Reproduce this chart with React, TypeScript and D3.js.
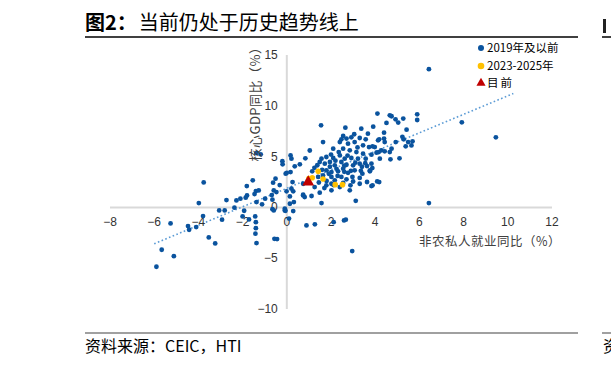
import React from "react";
import * as d3 from "d3";

const titleText = "图2：当前仍处于历史趋势线上";
const sourceText = "资料来源：CEIC，HTI";
const xAxisTitle = "非农私人就业同比（%）";
const yAxisTitle = "核心GDP同比（%）";
const legendLabels = ["2019年及以前", "2023-2025年", "目前"];

const xTicks = [-8, -6, -4, -2, 0, 2, 4, 6, 8, 10, 12];
const yTicks = [-10, -5, 0, 5, 10, 15];

// [private payroll yoy %, core GDP yoy %]
const pointsPre2019: [number, number][] = [
  // left side
  [-1.37, 5.35], [-1.18, 5.22], [-0.19, 4.24], [-0.2, 4.55], [-3.76, 2.46], [-1.54, 2.66], [-1.81, 2.1],
  [-0.51, 2.83], [-0.62, 2.43], [-0.32, 2.2], [-0.05, 3.32], [-1.4, 1.61], [-1.27, 1.67], [-1.46, 1.31],
  [-1.8, 1.18], [-1.86, 0.96], [-2.1, 0.86], [-2.28, 0.69], [-2.73, 0.72], [-3.98, 0.43], [-0.59, 1.67],
  [-0.68, 1.21], [-0.47, 1.51], [-0.98, 0.86], [-1.37, 0.52], [-1.12, 0.3], [-0.65, 0.76], [-0.01, 1.58],
  [-3.06, -0.3], [-2.81, -0.3], [-2.37, -0.03], [-1.93, -0.33], [-0.65, -0.17], [-0.59, -0.3], [-0.06, -0.33],
  [-3.79, -0.85], [-2.93, -1.21], [-2.0, -0.89], [-1.71, -1.18], [-1.43, -0.89], [-1.4, -1.45], [-1.4, -2.04],
  [-1.42, -2.59], [-1.37, -3.51], [-0.56, -3.09], [-0.44, -3.12], [-3.53, -2.96], [-3.24, -3.55],
  [-5.26, -1.58], [-4.47, -1.84], [-4.42, -2.2], [-4.1, -1.94], [-5.66, -4.17], [-5.11, -4.8], [-5.9, -5.84],
  // around zero
  [0.17, 5.12], [0.21, 4.8], [0.36, 4.04], [0.59, 4.24], [0.84, 4.83], [1.04, 5.6], [0.17, 3.48],
  [0.26, 2.49], [0.21, 1.84], [0.74, 1.25], [0.14, 1.08], [0.32, 0.52], [0.14, 0.36], [-0.09, -0.13],
  [0.1, -1.1], [0.29, -0.36], [-0.09, -0.3], [0.89, -1.77], [1.27, -1.67], [2.12, -1.45], [2.59, -1.28],
  [2.67, -1.21], [2.96, -4.3], [1.57, 0.43], [3.12, 0.65], [6.43, 0.43], [0.29, 1.58], [0.0, 3.4],
  // dense core
  [1.55, 8.08], [2.65, 7.85], [3.37, 7.75], [3.67, 7.26], [2.55, 7.03], [2.47, 6.7], [2.7, 6.77],
  [2.92, 6.9], [3.3, 6.83], [3.57, 6.7], [1.64, 6.43], [2.4, 6.43], [2.77, 6.27], [3.07, 6.43],
  [3.45, 6.11], [3.72, 5.94], [2.1, 5.78], [2.55, 5.78], [2.85, 5.62], [3.15, 5.45], [3.45, 5.29],
  [3.83, 5.19], [1.57, 4.8], [1.79, 4.96], [2.1, 4.86], [2.4, 5.12], [2.62, 4.8], [2.92, 4.86],
  [3.22, 4.8], [3.57, 4.8], [1.49, 4.47], [1.72, 4.3], [1.95, 4.47], [2.17, 4.14], [2.47, 4.47],
  [2.7, 4.2], [3.0, 4.14], [3.3, 4.3], [3.63, 4.07], [3.87, 3.87], [1.79, 3.65], [2.02, 3.48],
  [2.32, 3.55], [2.55, 3.81], [2.77, 3.4], [3.07, 3.65], [3.42, 3.32], [3.76, 3.55], [1.42, 3.0],
  [1.64, 3.15], [2.02, 3.0], [2.17, 2.66], [2.47, 3.0], [2.7, 2.76], [2.97, 3.0], [3.3, 2.9],
  [3.63, 2.5], [0.74, 2.33], [1.26, 2.0], [1.79, 2.17], [2.02, 2.33], [2.4, 2.0], [2.88, 2.17],
  [3.3, 2.33], [3.83, 2.1], [0.74, 1.18], [1.12, 1.12], [1.49, 1.45], [2.02, 1.68], [2.85, 1.68],
  [0.81, 1.02], [1.25, 3.9], [1.38, 4.15], [1.6, 3.7], [1.9, 3.3], [2.2, 4.6], [2.3, 3.1],
  [2.6, 3.5], [2.9, 3.6], [3.1, 4.4], [3.4, 4.0], [1.8, 2.6], [2.12, 2.2], [2.35, 5.45],
  [2.0, 5.2], [2.75, 5.1], [3.2, 5.9], [1.45, 2.45], [1.7, 1.9], [2.55, 2.4], [3.0, 2.55],
  [1.95, 4.0], [2.25, 3.8], [2.6, 4.1], [3.35, 3.6], [3.55, 4.35], [1.15, 3.55], [3.05, 7.2],
  // right side
  [4.1, 9.23], [4.66, 9.06], [4.74, 8.97], [4.92, 8.67], [5.27, 8.74], [5.9, 9.16], [5.9, 8.6],
  [7.92, 8.37], [9.46, 6.9], [6.43, 13.6], [4.51, 8.31], [5.04, 8.35], [3.91, 7.95], [5.42, 7.65],
  [4.4, 7.35], [5.23, 6.95], [4.13, 6.6], [4.4, 6.77], [4.43, 6.43], [4.93, 6.43], [5.29, 6.7],
  [5.49, 6.43], [5.69, 6.5], [5.38, 6.01], [5.64, 6.1], [4.06, 5.39], [4.28, 5.62], [4.74, 5.78],
  [4.66, 5.45], [5.1, 4.83], [4.21, 4.8], [4.69, 4.73], [3.83, 4.3], [4.09, 2.56], [4.18, 2.49],
  [3.88, 2.17], [3.76, 3.65], [3.88, 6.01], [3.98, 5.94], [4.18, 6.7], [4.16, 5.45], [4.43, 5.52],
];

const points2023to2025: [number, number][] = [
  [1.42, 3.55], [1.15, 2.92], [1.64, 2.79], [2.19, 2.24], [2.52, 2.24], [1.0, 2.85],
];

const currentPoint: [number, number] = [0.97, 2.6];

const trendSlope = 0.91;
const trendIntercept = 1.88;
const trendRange = [-6, 10.25];

const W = 611;
const H = 366;

export default function App() {
  const x = d3.scaleLinear().domain([-8, 12]).range([110, 552]);
  const y = d3.scaleLinear().domain([-10, 15]).range([309, 55]);
  const fmt = d3.format("d");
  const line = d3
    .line<number>()
    .x((d) => x(d))
    .y((d) => y(trendIntercept + trendSlope * d));
  const tri = d3.symbol().type(d3.symbolTriangle).size(60)();
  const triSmall = d3.symbol().type(d3.symbolTriangle).size(36)();
  const blue = "#0a539e";
  const yellow = "#ffc000";
  const red = "#c00000";
  const latin = "'Liberation Sans', Arial, sans-serif";
  const cjk = "'Noto Sans CJK SC', sans-serif";

  return (
    <svg
      width={W}
      height={H}
      style={{ position: "absolute", left: 0, top: 0, background: "#fff" }}
      xmlns="http://www.w3.org/2000/svg"
    >
      <rect width={W} height={H} fill="#fff" />
      {/* title */}
      <text x={85} y={30} fontFamily={cjk} fontSize={20} fill="#000">
        <tspan fontWeight="bold">{titleText.slice(0, 3)}</tspan>
        <tspan dx={2}>{titleText.slice(3)}</tspan>
      </text>
      <line x1={85} x2={578} y1={37} y2={37} stroke="#000" strokeWidth={1.5} />
      {/* right edge fragments */}
      <rect x={603} y={19} width={3} height={14} fill="#222" />
      <line x1={602} x2={611} y1={37} y2={37} stroke="#000" strokeWidth={1.5} />
      <line x1={602} x2={611} y1={333} y2={333} stroke="#808080" strokeWidth={1.5} />
      <text x={603} y={352} fontFamily={cjk} fontSize={16} fill="#000">资</text>

      {/* axes */}
      <line x1={x(-8)} x2={x(12)} y1={y(0)} y2={y(0)} stroke="#d9d9d9" strokeWidth={2} />
      <line x1={x(0)} x2={x(0)} y1={y(15)} y2={y(-10)} stroke="#d9d9d9" strokeWidth={2} />

      {/* trend line */}
      <path
        d={line(trendRange) || ""}
        fill="none"
        stroke="#5b9bd5"
        strokeWidth={1.6}
        strokeDasharray="1.6,2.4"
      />

      {/* tick labels */}
      {xTicks.map((t) => (
        <text
          key={"x" + t}
          x={x(t)}
          y={226}
          textAnchor="middle"
          fontFamily={latin}
          fontSize={12}
          fill="#333"
        >
          {fmt(t)}
        </text>
      ))}
      {yTicks.map((t) => (
        <text
          key={"y" + t}
          x={x(0) - 9}
          y={y(t) + 4}
          textAnchor="end"
          fontFamily={latin}
          fontSize={12}
          fill="#333"
        >
          {fmt(t)}
        </text>
      ))}

      {/* points */}
      {pointsPre2019.map((p, i) => (
        <circle key={"b" + i} cx={x(p[0])} cy={y(p[1])} r={2.4} fill={blue} />
      ))}
      {points2023to2025.map((p, i) => (
        <circle key={"o" + i} cx={x(p[0])} cy={y(p[1])} r={2.8} fill={yellow} />
      ))}
      <path d={tri || ""} transform={`translate(${x(currentPoint[0])},${y(currentPoint[1]) + 1})`} fill={red} />

      {/* axis titles */}
      <text
        x={561}
        y={246}
        textAnchor="end"
        fontFamily={cjk}
        fontSize={12.5}
        letterSpacing={0.5}
        fill="#404040"
      >
        {xAxisTitle}
      </text>
      <text
        transform={`translate(260,101) rotate(-90)`}
        textAnchor="middle"
        fontFamily={cjk}
        fontSize={13}
        letterSpacing={0.5}
        fill="#404040"
      >
        {yAxisTitle}
      </text>

      {/* legend */}
      <circle cx={481} cy={48} r={3} fill={blue} />
      <text x={487} y={52} fontFamily={cjk} fontSize={11.5} fill="#000">
        {legendLabels[0]}
      </text>
      <circle cx={481} cy={66} r={3.3} fill={yellow} />
      <text x={487} y={70} fontFamily={cjk} fontSize={11.5} fill="#000">
        {legendLabels[1]}
      </text>
      <path d={triSmall || ""} transform="translate(481,83)" fill={red} />
      <text x={487} y={87} fontFamily={cjk} fontSize={11.5} fill="#000" letterSpacing={2}>
        {legendLabels[2]}
      </text>

      {/* footer */}
      <line x1={85} x2={578} y1={333} y2={333} stroke="#808080" strokeWidth={1.5} />
      <text x={85} y={352} fontFamily={cjk} fontSize={16} fill="#000">
        {sourceText}
      </text>
    </svg>
  );
}
